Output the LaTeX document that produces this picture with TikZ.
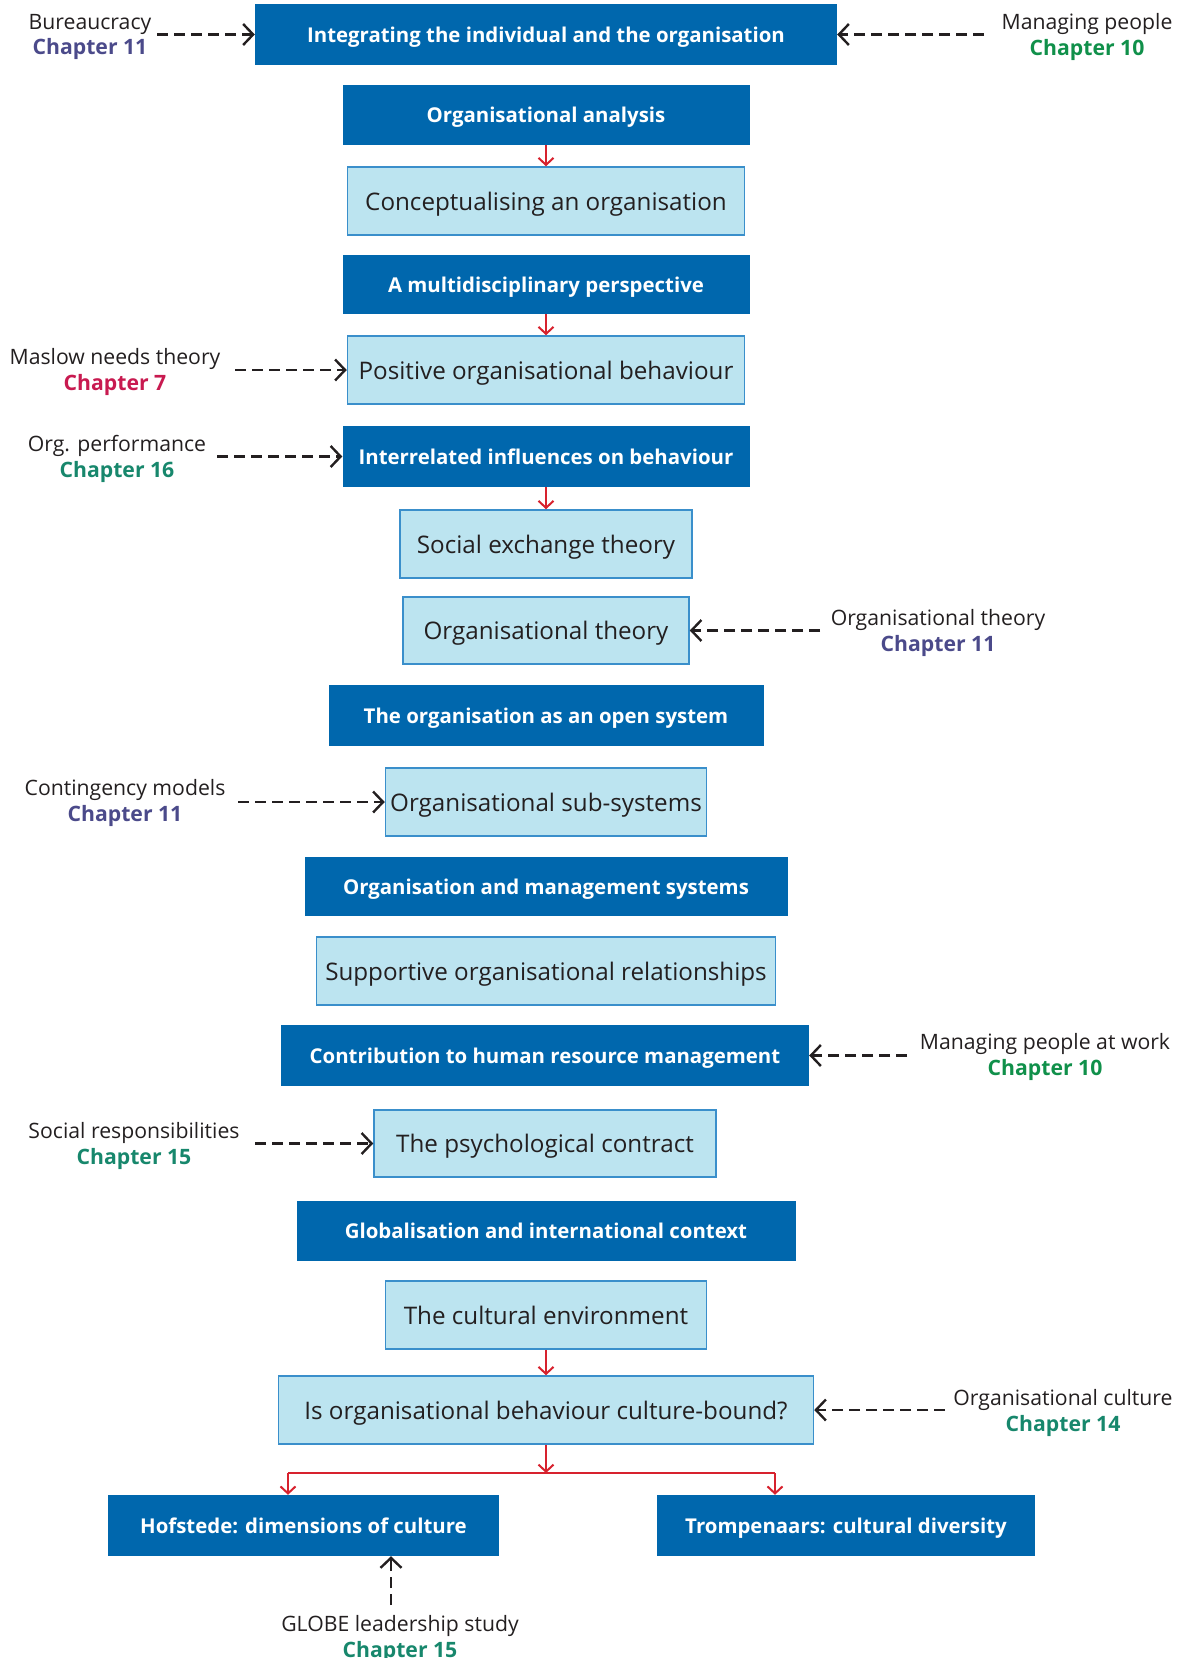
\documentclass[tikz,border=0pt]{standalone}
\usepackage{fontspec}
\setmainfont{Open Sans}
\usetikzlibrary{arrows.meta}
\definecolor{dblue}{HTML}{0067AD}
\definecolor{lfill}{HTML}{BCE4F0}
\definecolor{lline}{HTML}{3A8FCB}
\definecolor{redarr}{HTML}{D7222E}
\definecolor{txt}{HTML}{231F20}
\definecolor{cpurple}{HTML}{4B4A8A}
\definecolor{cgreen}{HTML}{10904A}
\definecolor{cteal}{HTML}{17876C}
\definecolor{ccrimson}{HTML}{C81A50}
\tikzset{
  dbox/.style={rectangle, fill=dblue, draw=none, text=white, inner sep=0pt, text depth=0pt,
    font=\fontsize{20.4}{24}\selectfont\bfseries},
  lbox/.style={rectangle, fill=lfill, draw=lline, line width=1.5pt, text=txt, inner sep=0pt, text depth=0pt,
    font=\fontsize{24.2}{28}\selectfont},
  lab/.style={align=center, text=txt, inner sep=0pt, font=\fontsize{21.2}{25.6}\selectfont},
  dep/.style={draw=txt, line width=2.4pt, dash pattern=on 11pt off 6pt,
    -{Straight Barb[length=10pt,width=21pt,line width=2.4pt]}},
  flow/.style={draw=redarr, line width=2pt,
    -{Straight Barb[length=7pt,width=15pt,line width=2pt]}},
  flowline/.style={draw=redarr, line width=2pt}
}
\newcommand{\chap}[2]{\textbf{\color{#1}#2}}
\begin{document}
\begin{tikzpicture}[x=1pt,y=-1pt]
\useasboundingbox (0,0) rectangle (1190,1658);
% main column
\node[dbox, minimum width=582pt, minimum height=61pt] (b1) at (546,34.5) {Integrating the individual and the organisation};
\node[dbox, minimum width=407pt, minimum height=60pt] (b2) at (546,115) {Organisational analysis};
\node[lbox, minimum width=397pt, minimum height=68pt] (b3) at (546,201) {Conceptualising an organisation};
\node[dbox, minimum width=407pt, minimum height=59pt] (b4) at (546,284.5) {A multidisciplinary perspective};
\node[lbox, minimum width=397pt, minimum height=68pt] (b5) at (546,370) {Positive organisational behaviour};
\node[dbox, minimum width=407pt, minimum height=61pt] (b6) at (546,456.5) {Interrelated influences on behaviour};
\node[lbox, minimum width=292pt, minimum height=68pt] (b7) at (546,544) {Social exchange theory};
\node[lbox, minimum width=286pt, minimum height=67pt] (b8) at (546,630.5) {Organisational theory};
\node[dbox, minimum width=435pt, minimum height=61pt] (b9) at (546,715.5) {The organisation as an open system};
\node[lbox, minimum width=321pt, minimum height=68pt] (b10) at (546,802) {Organisational sub-systems};
\node[dbox, minimum width=483pt, minimum height=59pt] (b11) at (546,886.5) {Organisation and management systems};
\node[lbox, minimum width=459pt, minimum height=68pt] (b12) at (546,971) {Supportive organisational relationships};
\node[dbox, minimum width=528pt, minimum height=61pt] (b13) at (545,1055.5) {Contribution to human resource management};
\node[lbox, minimum width=342pt, minimum height=67pt] (b14) at (545,1143.5) {The psychological contract};
\node[dbox, minimum width=499pt, minimum height=60pt] (b15) at (546,1231) {Globalisation and international context};
\node[lbox, minimum width=321pt, minimum height=68pt] (b16) at (546,1315) {The cultural environment};
\node[lbox, minimum width=535pt, minimum height=68pt] (b17) at (546,1410) {Is organisational behaviour culture-bound?};
\node[dbox, minimum width=391pt, minimum height=61pt] (b18) at (303.5,1525.5) {Hofstede: dimensions of culture};
\node[dbox, minimum width=378pt, minimum height=61pt] (b19) at (846,1525.5) {Trompenaars: cultural diversity};
% red flow arrows
\draw[flow] (b2) -- (b3);
\draw[flow] (b4) -- (b5);
\draw[flow] (b6) -- (b7);
\draw[flow] (b16) -- (b17);
\coordinate (jn) at (546,1473);
\coordinate (jl) at (288,1473);
\coordinate (jr) at (775,1473);
\draw[flow] (b17.south) -- (jn);
\draw[flowline] (jl) -- (jr);
\draw[flow] (jl) -- (jl |- b18.north);
\draw[flow] (jr) -- (jr |- b19.north);
% side labels
\node[lab] (l1) at (90,37) {Bureaucracy\\\chap{cpurple}{Chapter 11}};
\node[lab] (l2) at (1087,37) {Managing people\\\chap{cgreen}{Chapter 10}};
\node[lab] (l3) at (115,372) {Maslow needs theory\\\chap{ccrimson}{Chapter 7}};
\node[lab] (l4) at (117,459) {Org. performance\\\chap{cteal}{Chapter 16}};
\node[lab] (l5) at (938,633) {Organisational theory\\\chap{cpurple}{Chapter 11}};
\node[lab] (l6) at (125,803) {Contingency models\\\chap{cpurple}{Chapter 11}};
\node[lab] (l7) at (1045,1057) {Managing people at work\\\chap{cgreen}{Chapter 10}};
\node[lab] (l8) at (134,1146) {Social responsibilities\\\chap{cteal}{Chapter 15}};
\node[lab] (l9) at (1063,1413) {Organisational culture\\\chap{cteal}{Chapter 14}};
\node[lab] (l10) at (400,1639) {GLOBE leadership study\\\chap{cteal}{Chapter 15}};
% dashed connectors
\coordinate (s1) at (157,34.5);
\coordinate (s2) at (984,34.5);
\coordinate (s3) at (235,370);
\coordinate (s4) at (217,456.5);
\coordinate (s5) at (820,630.5);
\coordinate (s6) at (238,802);
\coordinate (s7) at (907,1055.5);
\coordinate (s8) at (255,1143.5);
\coordinate (s9) at (945,1410);
\coordinate (s10) at (391,1605);
\draw[dep] (s1) -- (s1 -| b1.west);
\draw[dep] (s2) -- (s2 -| b1.east);
\draw[dep] (s3) -- (s3 -| b5.west);
\draw[dep] (s4) -- (s4 -| b6.west);
\draw[dep] (s5) -- (s5 -| b8.east);
\draw[dep] (s6) -- (s6 -| b10.west);
\draw[dep] (s7) -- (s7 -| b13.east);
\draw[dep] (s8) -- (s8 -| b14.west);
\draw[dep] (s9) -- (s9 -| b17.east);
\draw[dep] (s10) -- (s10 |- b18.south);
\end{tikzpicture}
\end{document}
